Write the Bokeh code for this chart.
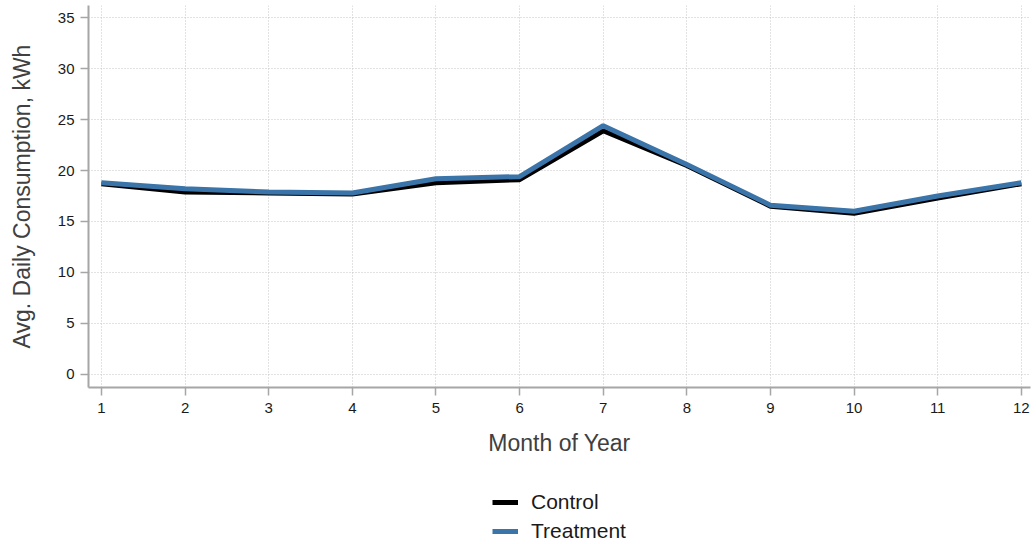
from bokeh.plotting import figure
from bokeh.layouts import column
from bokeh.models import Range1d, Legend, LegendItem, FixedTicker
from bokeh.embed import file_html
from bokeh.resources import INLINE

months = [1, 2, 3, 4, 5, 6, 7, 8, 9, 10, 11, 12]
control = [18.7, 17.9, 17.8, 17.7, 18.8, 19.1, 23.9, 20.5, 16.5, 15.8, 17.3, 18.7]
treatment = [18.8, 18.2, 17.9, 17.8, 19.2, 19.4, 24.4, 20.6, 16.6, 16.0, 17.5, 18.8]
y_ticks = [0, 5, 10, 15, 20, 25, 30, 35]

FONT = "Liberation Sans"
CONTROL_COLOR = "black"
TREAT_COLOR = "#3a74a8"

p = figure(width=1036, height=460, output_backend="svg", toolbar_location=None,
           x_range=Range1d(0.845, 12.11), y_range=Range1d(-1.3, 36.2),
           min_border_left=88, min_border_right=6, min_border_top=5, min_border_bottom=73)
p.outline_line_color = None

p.line(months, control, line_color=CONTROL_COLOR, line_width=5)
p.line(months, treatment, line_color=TREAT_COLOR, line_width=5)

p.xaxis.ticker = FixedTicker(ticks=months)
p.yaxis.ticker = FixedTicker(ticks=y_ticks)
p.xaxis.axis_label = "Month of Year"
p.yaxis.axis_label = "Avg. Daily Consumption, kWh"
for ax in (p.xaxis, p.yaxis):
    ax.axis_line_color = "#a6a6a6"
    ax.axis_line_width = 2
    ax.major_tick_line_color = "#a6a6a6"
    ax.major_tick_line_width = 1.5
    ax.minor_tick_line_color = None
    ax.major_label_text_font = FONT
    ax.major_label_text_font_size = "15px"
    ax.major_label_text_color = "#1a1a1a"
    ax.axis_label_text_font = FONT
    ax.axis_label_text_font_size = "23px"
    ax.axis_label_text_font_style = "normal"
    ax.axis_label_text_color = "#404040"
p.xaxis.major_tick_out = 8
p.xaxis.major_tick_in = 0
p.yaxis.major_tick_out = 8
p.yaxis.major_tick_in = 0
p.xaxis.major_label_standoff = 7
p.xaxis.axis_label_standoff = 14
p.yaxis.major_label_standoff = 6
p.yaxis.axis_label_standoff = 20

for g in (p.xgrid, p.ygrid):
    g.grid_line_color = "#c4c4c4"
    g.grid_line_dash = "1 2"
    g.grid_line_width = 1

# legend panel below the chart (its frame is aligned with the chart's frame)
lg = figure(width=1036, height=84, output_backend="svg", toolbar_location=None,
            x_range=Range1d(0, 1), y_range=Range1d(0, 1),
            x_axis_type=None, y_axis_type=None,
            min_border_left=0, min_border_right=0, min_border_top=0, min_border_bottom=0)
lg.outline_line_color = None
lg.xgrid.visible = False
lg.ygrid.visible = False
rc = lg.line([-10, -9], [-10, -10], line_color=CONTROL_COLOR, line_width=5)
rt = lg.line([-10, -9], [-10, -10], line_color=TREAT_COLOR, line_width=5)
legend = Legend(items=[LegendItem(label="Control", renderers=[rc]),
                       LegendItem(label="Treatment", renderers=[rt])],
                orientation="vertical", location=(404, 1),
                label_text_font=FONT, label_text_font_size="21px",
                label_text_color="#1a1a1a", label_standoff=13,
                glyph_width=26, glyph_height=22, spacing=5,
                border_line_color=None, background_fill_alpha=0,
                margin=0, padding=0)
lg.add_layout(legend, "center")

layout = column(p, lg, spacing=0)
open("out.html", "w").write(file_html(layout, INLINE))
